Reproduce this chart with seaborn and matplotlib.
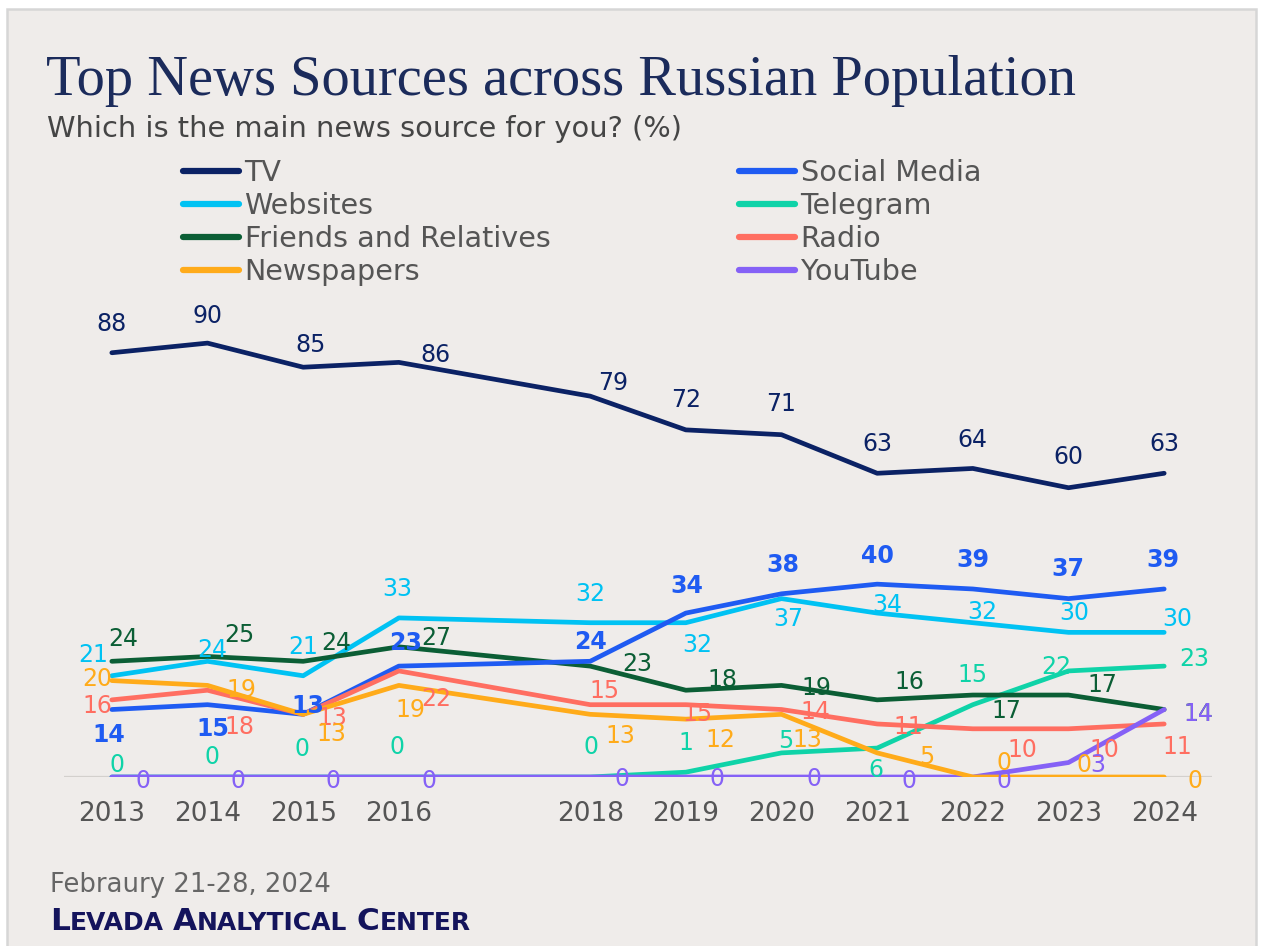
import matplotlib
matplotlib.use("Agg")
import matplotlib.pyplot as plt
import seaborn as sns
import pandas as pd
from matplotlib.patches import Rectangle

# ---------------- data ----------------
years = [2013, 2014, 2015, 2016, 2018, 2019, 2020, 2021, 2022, 2023, 2024]
tv = [88, 90, 85, 86, 79, 72, 71, 63, 64, 60, 63]
social_media = [14, 15, 13, 23, 24, 34, 38, 40, 39, 37, 39]
websites = [21, 24, 21, 33, 32, 32, 37, 34, 32, 30, 30]
telegram = [0, 0, 0, 0, 0, 1, 5, 6, 15, 22, 23]
friends = [24, 25, 24, 27, 23, 18, 19, 16, 17, 17, 14]
radio = [16, 18, 13, 22, 15, 15, 14, 11, 10, 10, 11]
newspapers = [20, 19, 13, 19, 13, 12, 13, 5, 0, 0, 0]
youtube = [0, 0, 0, 0, 0, 0, 0, 0, 0, 3, 14]

series_names = ["TV", "Websites", "Friends and Relatives", "Newspapers",
                "Social Media", "Telegram", "Radio", "YouTube"]
series_values = {
    "TV": tv, "Websites": websites, "Friends and Relatives": friends,
    "Newspapers": newspapers, "Social Media": social_media,
    "Telegram": telegram, "Radio": radio, "YouTube": youtube,
}

title = "Top News Sources across Russian Population"
subtitle = "Which is the main news source for you? (%)"
date_note = "Febraury 21-28, 2024"
source_pieces = [("L", True), ("EVADA", False), ("A", True), ("NALYTICAL", False),
                 ("C", True), ("ENTER", False)]

# ---------------- style ----------------
palette = {
    "TV": "#0b2265", "Social Media": "#1f5bf2", "Websites": "#00c2f3",
    "Telegram": "#0fd3a8", "Friends and Relatives": "#0b5e35",
    "Radio": "#ff6e61", "Newspapers": "#ffab1a", "YouTube": "#8561f6",
}
line_z = {"Websites": 2.0, "Telegram": 2.1, "Friends and Relatives": 2.2,
          "Social Media": 2.3, "Radio": 2.4, "YouTube": 2.5,
          "Newspapers": 2.6, "TV": 2.7}
label_weight = {"TV": "medium", "Social Media": "semibold"}
# label offsets in pixels (dx right, dy down) for each point
label_offsets = {
    "TV": [(0, -31), (0, -30), (7, -25), (37, -10), (23, -16), (0, -32), (0, -33),
           (0, -32), (0, -31), (0, -33), (0, -32)],
    "Social Media": [(-3, 23), (5, 22), (5, -11), (7, -26), (0, -22), (1, -30), (1, -31),
                     (0, -31), (0, -31), (-1, -32), (-1, -31)],
    "Websites": [(-19, -23), (5, -14), (0, -31), (-2, -31), (0, -31), (11, 20), (7, 18),
                 (10, -11), (9, -13), (6, -22), (13, -16)],
    "Telegram": [(5, -15), (5, -23), (-1, -31), (-2, -32), (1, -32), (0, -32), (4, -14),
                 (-1, 19), (0, -32), (-12, -6), (30, -10)],
    "Friends and Relatives": [(11, -25), (32, -24), (33, -21), (37, -11), (47, -5), (37, -13),
                              (35, 0), (32, -20), (34, 13), (34, -13), (34, 2)],
    "Radio": [(-14, 4), (32, 34), (29, 1), (37, 26), (14, -16), (12, 7), (34, 0),
              (31, 1), (50, 19), (36, 19), (13, 21)],
    "Newspapers": [(-15, -4), (34, 2), (28, 17), (12, 22), (30, 19), (35, 18), (26, 23),
                   (50, 2), (31, -17), (16, -14), (31, 1)],
    "YouTube": [(31, 1), (31, 1), (30, 1), (30, 1), (32, 0), (31, 0), (32, 0),
                (32, 1), (31, 2), (29, 0), (34, 2)],
}
label_order = ["Friends and Relatives", "Websites", "Telegram", "Radio", "Newspapers",
               "Social Media", "TV", "YouTube"]

W, H = 1261, 946


def fx(x):
    return x / W


def fy(y):
    return 1 - y / H


sns.set_theme(style="white")
plt.rcParams["font.family"] = ["DejaVu Sans"]

fig = plt.figure(figsize=(W / 100, H / 100), dpi=100)
fig.patch.set_facecolor("white")
fig.add_artist(Rectangle((fx(7), -0.05), fx(1256) - fx(7), fy(9.5) + 0.05,
                         transform=fig.transFigure, facecolor="#efecea",
                         edgecolor="#d6d6d6", linewidth=1.8, zorder=0))

ax = fig.add_axes([fx(64), 1 - 777 / H, (1212 - 64) / W, 458 / H])
ax.set_facecolor("none")

df = pd.DataFrame([
    {"Year": y, "Share": v, "Source": name}
    for name in series_names for y, v in zip(years, series_values[name])
])

sns.lineplot(data=df, x="Year", y="Share", hue="Source", hue_order=series_names,
             palette=palette, linewidth=3.4, errorbar=None, ax=ax,
             solid_capstyle="round", solid_joinstyle="round")

for line, name in zip(ax.get_lines(), series_names):
    line.set_zorder(line_z[name])

ax.axhline(0, color="#d3d0cd", linewidth=1.6, zorder=1)

ax.set_xlim(2012.5, 2024.5)
ax.set_ylim(0, 95)
ax.set_xticks(years)
ax.set_xticklabels([str(y) for y in years])
ax.set_yticks([])
ax.tick_params(axis="x", length=0, pad=17, labelsize=19, labelcolor="#555555")
ax.set_xlabel("")
ax.set_ylabel("")
for s in ax.spines.values():
    s.set_visible(False)

# data labels
for k, name in enumerate(label_order):
    vals = series_values[name]
    for i, (yr, v) in enumerate(zip(years, vals)):
        dx, dy = label_offsets[name][i]
        ax.annotate(str(v), xy=(yr, v), xytext=(dx, -dy), textcoords="offset pixels",
                    ha="center", va="center_baseline", fontsize=17,
                    color=palette[name], fontweight=label_weight.get(name, "normal"),
                    zorder=5 + k * 0.01, annotation_clip=False)

# legend
sns.move_legend(ax, "upper left", bbox_to_anchor=(fx(183), fy(159)),
                bbox_transform=fig.transFigure, ncol=2, frameon=False, title=None,
                fontsize=20.6, handlelength=1.95, handletextpad=0.2, columnspacing=6.6,
                labelspacing=0.17, borderpad=0, borderaxespad=0, labelcolor="#555555")
leg = ax.get_legend()
for h in leg.legend_handles:
    h.set_linewidth(4.5)
    h.set_solid_capstyle("round")

# titles
fig.text(fx(46), fy(95), title, family="Liberation Serif", fontsize=40.7,
         color="#1b2b5b", va="baseline", ha="left")
fig.text(fx(47), fy(137), subtitle, fontsize=20.8, color="#454545",
         va="baseline", ha="left")
fig.text(fx(50), fy(892), date_note, fontsize=18.6, color="#666666",
         va="baseline", ha="left")

renderer = fig.canvas.get_renderer()
x = 50.0
for j, (piece, big) in enumerate(source_pieces):
    t = fig.text(fx(x), fy(930), piece, fontsize=22.5 if big else 18,
                 color="#14145c", fontweight="semibold", va="baseline", ha="left")
    x += t.get_window_extent(renderer).width
    if not big:
        x += 9

fig.savefig("out.png", dpi=100)
